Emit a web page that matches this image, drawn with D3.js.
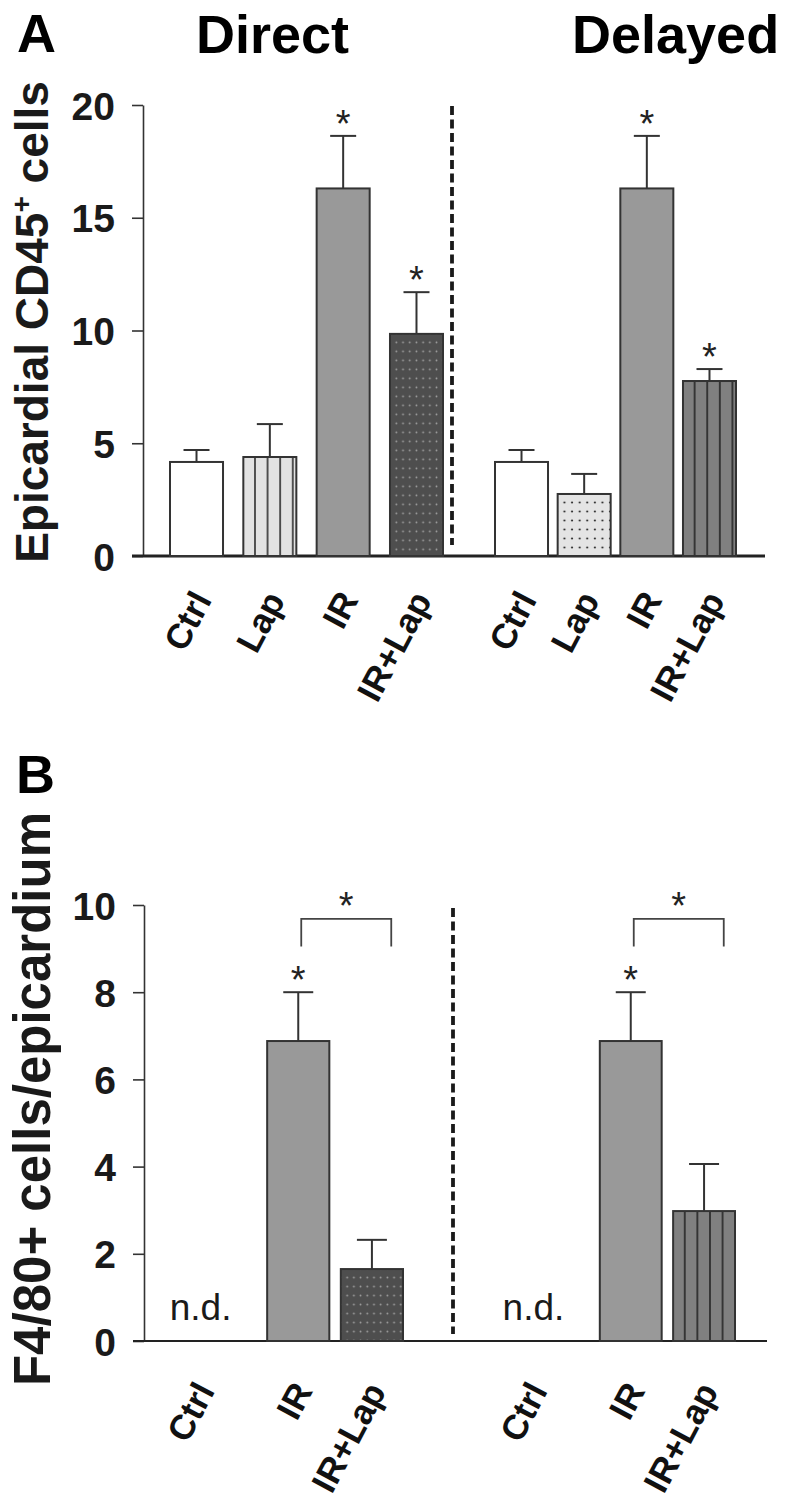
<!DOCTYPE html>
<html>
<head>
<meta charset="utf-8">
<script src="https://cdn.jsdelivr.net/npm/d3@7"></script>
<style>
  html, body { margin: 0; padding: 0; background: #fff; }
  svg { display: block; }
  text { font-family: "Liberation Sans", Arial, Helvetica, sans-serif; }
</style>
</head>
<body>
<svg id="chart" width="798" height="1501"></svg>
<script>
// ---------------- DATA ----------------
const catsA = ["Ctrl", "Lap", "IR", "IR+Lap"];
const directA = [4.17, 4.39, 16.3, 9.85];
const directAErr = [0.53, 1.46, 2.33, 1.85];
const directAStar = [false, false, true, true];
const delayedA = [4.17, 2.75, 16.3, 7.76];
const delayedAErr = [0.53, 0.89, 2.33, 0.53];
const delayedAStar = [false, false, true, true];
const ticksA = [0, 5, 10, 15, 20];

const catsB = ["Ctrl", "IR", "IR+Lap"];
const directB = [null, 6.88, 1.65];
const directBErr = [null, 1.12, 0.67];
const delayedB = [null, 6.88, 2.98];
const delayedBErr = [null, 1.12, 1.08];
const starB = [false, true, false];
const ticksB = [0, 2, 4, 6, 8, 10];

const groupTitles = ["Direct", "Delayed"];
const panelLetters = ["A", "B"];
const yTitleA = ["Epicardial CD45", "+", " cells"];
const yTitleB = "F4/80+ cells/epicardium";
const ndText = "n.d.";

// ---------------- STYLES ----------------
const styles = {
  "Ctrl|Direct":   {fill: "#ffffff"},
  "Lap|Direct":    {fill: "#e2e2e2", stripe: "#4a4a4a"},
  "IR|Direct":     {fill: "#999999"},
  "IR+Lap|Direct": {fill: "#4e4e4e", dots: "#a0a0a0", dx: 6.7, dy: 9, r: 0.9},
  "Ctrl|Delayed":  {fill: "#ffffff"},
  "Lap|Delayed":   {fill: "#e4e4e4", dots: "#333333", dx: 7.6, dy: 9, r: 1.1},
  "IR|Delayed":    {fill: "#999999"},
  "IR+Lap|Delayed":{fill: "#808080", stripe: "#333333"}
};

const svg = d3.select("#chart");
const defs = svg.append("defs");
const FONT = '"Liberation Sans", Arial, Helvetica, sans-serif';
let patId = 0;

function fillFor(key, x0, y0) {
  const s = styles[key];
  if (!s.stripe && !s.dots) return s.fill;
  const id = "pat" + (patId++);
  if (s.stripe) {
    const w = 12.6;
    const p = defs.append("pattern").attr("id", id)
      .attr("patternUnits", "userSpaceOnUse")
      .attr("x", x0).attr("y", 0).attr("width", w).attr("height", 10);
    p.append("rect").attr("width", w).attr("height", 10).attr("fill", s.fill);
    p.append("rect").attr("x", w - 1.9).attr("width", 1.9).attr("height", 10).attr("fill", s.stripe);
  } else {
    const p = defs.append("pattern").attr("id", id)
      .attr("patternUnits", "userSpaceOnUse")
      .attr("x", x0 + 3).attr("y", y0 + 4).attr("width", s.dx).attr("height", s.dy);
    p.append("rect").attr("width", s.dx).attr("height", s.dy).attr("fill", s.fill);
    p.append("circle").attr("cx", s.dx / 2).attr("cy", s.dy / 2).attr("r", s.r).attr("fill", s.dots);
  }
  return "url(#" + id + ")";
}

function drawPanel(cfg) {
  const g = svg.append("g");
  const y = d3.scaleLinear().domain([0, cfg.ymax]).range(cfg.yRange);

  // y axis
  const axis = d3.axisLeft(y).tickValues(cfg.ticks).tickSize(11).tickSizeOuter(0).tickPadding(17);
  const ax = g.append("g").attr("transform", `translate(${cfg.axisX},0)`).call(axis);
  ax.select(".domain").attr("stroke", "#333").attr("stroke-width", 1.6);
  ax.selectAll(".tick line").attr("stroke", "#333").attr("stroke-width", 1.6);
  ax.selectAll(".tick text").attr("font-family", FONT).attr("font-weight", "bold")
    .attr("font-size", 39).attr("fill", "#1a1a1a").attr("dy", "0.36em");

  // baseline
  g.append("line").attr("x1", cfg.axisX - 11).attr("x2", cfg.baseEnd)
    .attr("y1", y(0)).attr("y2", y(0))
    .attr("stroke", "#222").attr("stroke-width", cfg.baseW);

  // dashed divider
  g.append("line").attr("x1", cfg.divX).attr("x2", cfg.divX)
    .attr("y1", cfg.divY[0]).attr("y2", cfg.divY[1])
    .attr("stroke", "#1a1a1a").attr("stroke-width", 3.8).attr("stroke-dasharray", "9,4.5");

  cfg.groups.forEach((grp) => {
    const x = d3.scaleBand().domain(cfg.cats).range(grp.range).paddingInner(grp.pad).paddingOuter(0);
    const bw = x.bandwidth();
    const rows = cfg.cats.map((c, i) => ({c, v: grp.vals[i], e: grp.errs[i], star: grp.stars[i]}));

    rows.forEach(d => {
      const cx = x(d.c) + bw / 2;
      if (d.v == null) {
        g.append("text").attr("x", cx + cfg.ndShift).attr("y", y(0) - 21)
          .attr("text-anchor", "middle").attr("font-family", FONT)
          .attr("font-size", 37).attr("fill", "#1a1a1a").text(ndText);
        return;
      }
      const key = d.c + "|" + grp.name;
      const x0 = x(d.c), y0 = y(d.v);
      // error bar (upper only)
      const yt = y(d.v + d.e);
      g.append("line").attr("x1", cx).attr("x2", cx).attr("y1", y0).attr("y2", yt)
        .attr("stroke", "#333").attr("stroke-width", 2);
      g.append("line").attr("x1", cx - cfg.cap / 2).attr("x2", cx + cfg.cap / 2)
        .attr("y1", yt).attr("y2", yt).attr("stroke", "#333").attr("stroke-width", 2);
      // bar
      g.append("rect").attr("x", x0).attr("y", y0).attr("width", bw).attr("height", y(0) - y0)
        .attr("fill", fillFor(key, x0, y0)).attr("stroke", "#333").attr("stroke-width", 2);
      if (d.star) {
        g.append("text").attr("x", cx).attr("y", yt + 1).attr("text-anchor", "middle")
          .attr("font-family", FONT).attr("font-size", 38).attr("fill", "#222").text("*");
      }
    });

    // x labels
    rows.forEach(d => {
      const cx = x(d.c) + bw / 2 + (d.v == null ? cfg.ndShift : 0);
      g.append("text")
        .attr("transform", `translate(${cx + cfg.labDx},${y(0) + cfg.labDy}) rotate(-62)`)
        .attr("text-anchor", "end").attr("font-family", FONT).attr("font-weight", "bold")
        .attr("font-size", 35).attr("fill", "#111").text(d.c);
    });

    // significance bracket (panel B)
    if (cfg.bracket) {
      const xl = x("IR") + bw / 2 + 3;
      const xr = xl + 90;
      const yb = y(cfg.bracket[0]), yl = y(cfg.bracket[1]);
      g.append("path").attr("d", `M${xl},${yl}V${yb}H${xr}V${yl}`)
        .attr("fill", "none").attr("stroke", "#444").attr("stroke-width", 1.8);
      g.append("text").attr("x", (xl + xr) / 2).attr("y", yb).attr("text-anchor", "middle")
        .attr("font-family", FONT).attr("font-size", 38).attr("fill", "#222").text("*");
    }
  });
}

// ---------------- PANEL A ----------------
drawPanel({
  cats: catsA, ymax: 20, yRange: [556, 105], ticks: ticksA, axisX: 143, baseEnd: 765, baseW: 3,
  cap: 26, ndShift: 0, divX: 452, divY: [106, 545], labDx: 16, labDy: 44,
  groups: [
    {name: "Direct", range: [170, 443], pad: 0.277, vals: directA, errs: directAErr, stars: directAStar},
    {name: "Delayed", range: [495, 736], pad: 0.154, vals: delayedA, errs: delayedAErr, stars: delayedAStar}
  ]
});

// ---------------- PANEL B ----------------
drawPanel({
  cats: catsB, ymax: 10, yRange: [1341, 905], ticks: ticksB, axisX: 144, baseEnd: 767, baseW: 2,
  cap: 30, ndShift: -24, divX: 453, divY: [908, 1334], bracket: [9.68, 9.05], labDx: 15, labDy: 50,
  groups: [
    {name: "Direct", range: [193.5, 403], pad: 0.156, vals: directB, errs: directBErr, stars: starB},
    {name: "Delayed", range: [526.5, 735], pad: 0.156, vals: delayedB, errs: delayedBErr, stars: starB}
  ]
});

// ---------------- TITLES ----------------
svg.append("text").attr("x", 17).attr("y", 52).attr("font-family", FONT).attr("font-weight", "bold")
  .attr("font-size", 54).attr("fill", "#000").text(panelLetters[0]);
svg.append("text").attr("x", 16).attr("y", 793).attr("font-family", FONT).attr("font-weight", "bold")
  .attr("font-size", 54).attr("fill", "#000").text(panelLetters[1]);
svg.append("text").attr("x", 196).attr("y", 53).attr("font-family", FONT).attr("font-weight", "bold")
  .attr("font-size", 54).attr("fill", "#000").text(groupTitles[0]);
svg.append("text").attr("x", 572).attr("y", 53).attr("font-family", FONT).attr("font-weight", "bold")
  .attr("font-size", 54).attr("fill", "#000").text(groupTitles[1]);

// y titles
const ta = svg.append("text").attr("transform", "translate(48,322) rotate(-90)")
  .attr("text-anchor", "middle").attr("font-family", FONT).attr("font-weight", "bold")
  .attr("font-size", 46).attr("fill", "#1a1a1a");
ta.append("tspan").text(yTitleA[0]);
ta.append("tspan").attr("dy", -17).attr("font-size", 28).text(yTitleA[1]);
ta.append("tspan").attr("dy", 17).text(yTitleA[2]);

svg.append("text").attr("transform", "translate(50,1099) rotate(-90)")
  .attr("text-anchor", "middle").attr("font-family", FONT).attr("font-weight", "bold")
  .attr("font-size", 51).attr("fill", "#1a1a1a").text(yTitleB);
</script>
</body>
</html>
